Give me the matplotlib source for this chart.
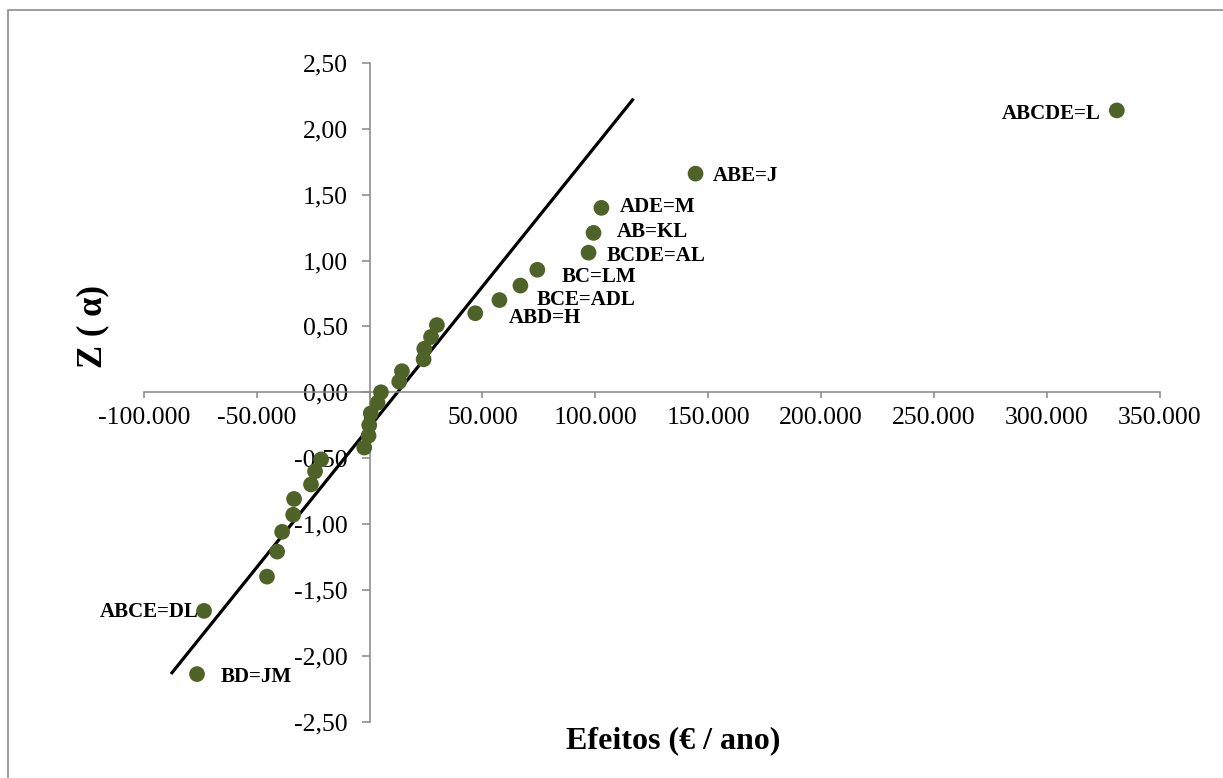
import matplotlib
matplotlib.use("Agg")
import matplotlib.pyplot as plt
from matplotlib.patches import Rectangle

# Effects (EUR / year) ordered from largest to smallest, with their normal scores
effects = [331100, 144400, 102700, 99200, 97000, 74300, 66800, 57500, 46800,
           29800, 27200, 24200, 23900, 14300, 13100, 5000, 3500, 500, -200,
           -500, -2400, -21500, -24200, -26000, -33500, -33900, -38800,
           -41000, -45500, -73400, -76500]
z_scores = [2.14, 1.66, 1.40, 1.21, 1.06, 0.93, 0.81, 0.70, 0.60, 0.51, 0.42,
            0.33, 0.25, 0.16, 0.08, 0.00, -0.08, -0.16, -0.25, -0.33, -0.42,
            -0.51, -0.60, -0.70, -0.81, -0.93, -1.06, -1.21, -1.40, -1.66,
            -2.14]
effect_names = ["ABCDE=L", "ABE=J", "ADE=M", "AB=KL", "BCDE=AL", "BC=LM", "",
                "BCE=ADL", "ABD=H", "", "", "", "", "", "", "", "", "", "", "",
                "", "", "", "", "", "", "", "", "", "ABCE=DL", "BD=JM"]

# Reference line through the bulk of the effects
line_effects = [-87600, 116500]
line_z = [-2.13, 2.22]

x_ticks = [-100000, -50000, 0, 50000, 100000, 150000, 200000, 250000, 300000, 350000]
x_tick_labels = ["-100.000", "-50.000", "0", "50.000", "100.000", "150.000",
                 "200.000", "250.000", "300.000", "350.000"]
y_ticks = [-2.5, -2.0, -1.5, -1.0, -0.5, 0.0, 0.5, 1.0, 1.5, 2.0, 2.5]
y_tick_labels = ["-2,50", "-2,00", "-1,50", "-1,00", "-0,50", "0,00", "0,50",
                 "1,00", "1,50", "2,00", "2,50"]

# label placement: (dx, dy) in pixels from the marker, horizontal alignment
label_style = {
    "ABCDE=L": (-16, -9, "right"),
    "ABE=J": (17, -7, "left"),
    "ADE=M": (18, -4, "left"),
    "AB=KL": (23, -4, "left"),
    "BCDE=AL": (18, -8, "left"),
    "BC=LM": (24, -12, "left"),
    "BCE=ADL": (37, -5, "left"),
    "ABD=H": (34, -10, "left"),
    "ABCE=DL": (-5, -6, "right"),
    "BD=JM": (24, -8, "left"),
}

SERIF = "Liberation Serif"
AXIS_GRAY = "#868686"
MARKER = "#4F6228"

fig = plt.figure(figsize=(12.23, 7.78), dpi=100)
fig.patches.append(Rectangle((8 / 1223, -0.2), 1.2, 1 - 10 / 778 + 0.2,
                             transform=fig.transFigure, fill=False,
                             edgecolor="#8c8c8c", linewidth=1.2))

ax = fig.add_axes([144 / 1223, 1 - 721.5 / 778, (1159.5 - 144) / 1223, (721.5 - 63) / 778])
ax.set_xlim(-100000, 350000)
ax.set_ylim(-2.5, 2.5)
ax.patch.set_alpha(0)

for side in ("top", "right"):
    ax.spines[side].set_visible(False)
ax.spines["left"].set_position(("data", 0))
ax.spines["bottom"].set_position(("data", 0))
for side in ("left", "bottom"):
    ax.spines[side].set_color(AXIS_GRAY)
    ax.spines[side].set_linewidth(1.1)

ax.set_xticks(x_ticks)
ax.set_xticklabels(x_tick_labels, family=SERIF, fontsize=18.5)
ax.set_yticks(y_ticks)
ax.set_yticklabels(y_tick_labels, family=SERIF, fontsize=18.5)
ax.tick_params(axis="x", direction="out", length=4.5, width=1.1, color=AXIS_GRAY, pad=6)
ax.tick_params(axis="y", direction="out", length=5.8, width=1.1, color=AXIS_GRAY, pad=10)

ax.plot(line_effects, line_z, color="black", linewidth=2.3, zorder=2, clip_on=False)
ax.scatter(effects, z_scores, s=128, color=MARKER, edgecolors="none", zorder=3, clip_on=False)

for name, x, z in zip(effect_names, effects, z_scores):
    if not name:
        continue
    dx, dy, ha = label_style[name]
    ax.annotate(name, (x, z), xytext=(dx, dy), textcoords="offset pixels",
                ha=ha, va="baseline", family=SERIF, fontweight="bold",
                fontsize=15, zorder=4)

fig.text(673 / 1223, 1 - 741 / 778, "Efeitos (€ / ano)", ha="center", va="center",
         family=SERIF, fontweight="bold", fontsize=23)
fig.text(93 / 1223, 1 - 326 / 778, "Z ( α)", ha="center", va="center",
         rotation=90, family=SERIF, fontweight="bold", fontsize=25)

fig.savefig("out.png", dpi=100)
